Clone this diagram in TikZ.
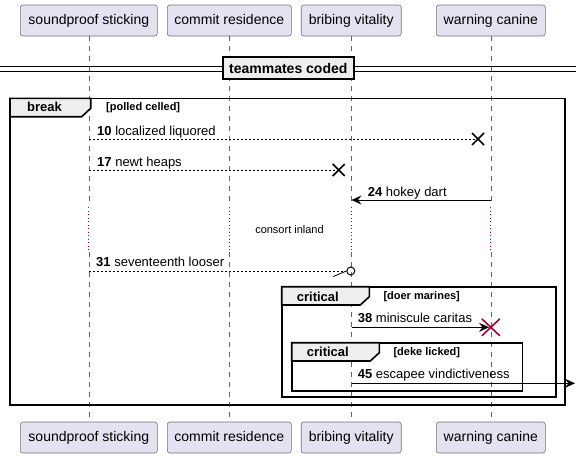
\documentclass[tikz,border=0pt]{standalone}
\usepackage{fontspec}
\setmainfont{Liberation Sans}
\usetikzlibrary{arrows.meta}
\definecolor{partfill}{RGB}{226,226,240}
\definecolor{tabfill}{RGB}{238,238,238}
\definecolor{plumred}{RGB}{168,0,54}

\tikzset{
  actor/.style={draw=black!55, fill=partfill, rounded corners=2.5pt, minimum height=31pt, inner sep=0pt, text height=10.5pt, text depth=3pt, line width=0.6pt, font=\fontsize{14}{16}\selectfont},
  lifeline/.style={draw=black!60, line width=0.5pt, dash pattern=on 5pt off 5pt},
  delayline/.style={draw=plumred, line width=1pt, dash pattern=on 1pt off 2.5pt},
  msgtext/.style={anchor=base west, inner sep=0pt, font=\fontsize{13}{15}\selectfont},
  guardtext/.style={anchor=base west, inner sep=0pt, font=\fontsize{11}{13}\selectfont\bfseries},
  tabtext/.style={anchor=base west, inner sep=0pt, font=\fontsize{13}{15}\selectfont\bfseries},
  msgdash/.style={line width=0.7pt, dash pattern=on 2pt off 2pt},
  msgsolid/.style={line width=0.8pt},
  tip/.style={-{Stealth[length=10pt, width=9pt, inset=3.5pt]}},
  frame/.style={line width=1.6pt},
  tab/.style={draw, fill=tabfill, line width=1.6pt},
  cross/.style={line width=1.6pt}
}

\begin{document}
\begin{tikzpicture}[x=1pt, y=-1pt]
  \useasboundingbox (0,0) rectangle (581,458);

  % participants
  \node[actor, minimum width=137pt] (soundT) at (88.8,20.5) {soundproof sticking};
  \node[actor, minimum width=124pt] (commitT) at (229.3,20.5) {commit residence};
  \node[actor, minimum width=100pt] (bribeT) at (351.2,20.5) {bribing vitality};
  \node[actor, minimum width=109pt] (warnT) at (490.8,20.5) {warning canine};
  \node[actor, minimum width=137pt] (soundB) at (88.8,437.5) {soundproof sticking};
  \node[actor, minimum width=124pt] (commitB) at (229.3,437.5) {commit residence};
  \node[actor, minimum width=100pt] (bribeB) at (351.2,437.5) {bribing vitality};
  \node[actor, minimum width=109pt] (warnB) at (490.8,437.5) {warning canine};

  % lifelines, broken by the delay
  \draw[lifeline] (soundT.south) -- (soundT.south |- 0,206);
  \draw[lifeline] (commitT.south) -- (commitT.south |- 0,206);
  \draw[lifeline] (bribeT.south) -- (bribeT.south |- 0,206);
  \draw[lifeline] (warnT.south) -- (warnT.south |- 0,206);
  \draw[delayline] (soundT.south |- 0,207) -- (soundT.south |- 0,250);
  \draw[delayline] (commitT.south |- 0,207) -- (commitT.south |- 0,250);
  \draw[delayline] (bribeT.south |- 0,207) -- (bribeT.south |- 0,250);
  \draw[delayline] (warnT.south |- 0,207) -- (warnT.south |- 0,250);
  \draw[lifeline] (soundB.north |- 0,252) -- (soundB.north);
  \draw[lifeline] (commitB.north |- 0,252) -- (commitB.north);
  \draw[lifeline] (bribeB.north |- 0,252) -- (bribeB.north);
  \draw[lifeline] (warnB.north |- 0,252) -- (warnB.north);

  % divider
  \draw[line width=1pt] (0,66.7) -- (576,66.7);
  \draw[line width=1pt] (0,71.2) -- (576,71.2);
  \node[draw, fill=tabfill, line width=1.6pt, minimum width=131pt, minimum height=22pt, inner sep=0pt, font=\fontsize{14}{16}\selectfont\bfseries] (divider) at (288.3,68.2) {teammates coded};

  % break frame
  \draw[frame] (10,98.3) rectangle (565,405);
  \filldraw[tab] (10,98.3) -- (90.7,98.3) -- (90.7,108.3) -- (81.7,116.7) -- (10,116.7) -- cycle;
  \node[tabtext] (breaklbl) at (27,111.7) {break};
  \node[guardtext] (breakgrd) at (106,110.5) {[polled celled]};

  % messages
  \coordinate (a10) at (88.8,139);
  \coordinate (b10) at (478,139);
  \draw[msgdash] (a10) -- (b10);
  \draw[cross] (b10) +(-6,-6) -- +(6,6) +(-6,6) -- +(6,-6);
  \node[msgtext] (m10) at (97,135) {\textbf{10} localized liquored};

  \coordinate (a17) at (88.8,170);
  \coordinate (b17) at (338.7,170);
  \draw[msgdash] (a17) -- (b17);
  \draw[cross] (b17) +(-6,-6) -- +(6,6) +(-6,6) -- +(6,-6);
  \node[msgtext] (m17) at (97,166) {\textbf{17} newt heaps};

  \coordinate (a24) at (490.8,200);
  \coordinate (b24) at (351.5,200);
  \draw[msgsolid, tip] (a24) -- (b24);
  \node[msgtext] (m24) at (367.7,196) {\textbf{24} hokey dart};

  \node[inner sep=0pt, font=\fontsize{11}{13}\selectfont] (delay) at (289.5,230) {consort inland};

  \coordinate (a31) at (88.8,271);
  \node[draw, circle, line width=1pt, minimum size=8pt, inner sep=0pt] (o31) at (350.8,271) {};
  \draw[msgdash] (a31) -- (o31.west);
  \draw[line width=0.8pt] (o31.west) -- ++(-13,5.5);
  \node[msgtext] (m31) at (96,266.5) {\textbf{31} seventeenth looser};

  % critical frame
  \draw[frame] (281.7,286.7) rectangle (555.7,397);
  \filldraw[tab] (281.7,286.7) -- (369.3,286.7) -- (369.3,296.7) -- (360.3,305) -- (281.7,305) -- cycle;
  \node[tabtext] (crit1lbl) at (296.7,301) {critical};
  \node[guardtext] (crit1grd) at (383.3,299.5) {[doer marines]};

  \coordinate (a38) at (351.5,327.3);
  \coordinate (b38) at (489,327.3);
  \draw[msgsolid, tip] (a38) -- (b38);
  \draw[cross, draw=plumred] (490.8,327.3) +(-9,-8.5) -- +(9,8.5) +(-9,8.5) -- +(9,-8.5);
  \node[msgtext] (m38) at (357.7,322.7) {\textbf{38} miniscule caritas};

  % inner critical frame
  \draw[frame] (291.7,342.7) rectangle (522.3,390.7);
  \filldraw[tab] (291.7,342.7) -- (379.3,342.7) -- (379.3,352.7) -- (370.3,361) -- (291.7,361) -- cycle;
  \node[tabtext] (crit2lbl) at (306.7,356.7) {critical};
  \node[guardtext] (crit2grd) at (393.3,355.5) {[deke licked]};

  \coordinate (a45) at (351.5,383.3);
  \coordinate (b45) at (575,383.3);
  \draw[msgsolid, tip] (a45) -- (b45);
  \node[msgtext] (m45) at (357.7,378.3) {\textbf{45} escapee vindictiveness};
\end{tikzpicture}
\end{document}
